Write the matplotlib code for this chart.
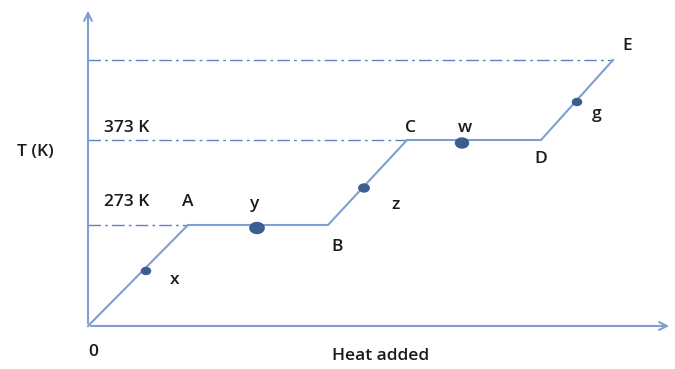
import matplotlib.pyplot as plt
from matplotlib.patches import Ellipse

# heating curve corners: O, A, B, C, D, E (heat, temperature in drawing units)
heat = [0, 100, 240, 319, 453, 525]
temp = [0, 101, 101, 186, 186, 266]
corner_labels = ["A", "B", "C", "D", "E"]
corner_label_pos = [(100, 124), (249, 79), (322, 198), (453, 167), (539, 280)]

# state points on the curve
pt_names = ["x", "y", "z", "w", "g"]
pt_heat = [58, 169, 276, 374, 489]
pt_temp = [55, 98, 138, 183, 224]
pt_size = [7, 11, 8, 10, 7]
pt_label_pos = [(87, 46), (167, 122), (308, 121), (377, 198), (509, 212)]

level_names = ["273 K", "373 K"]
line_col = "#7f9ed2"
dot_col = "#3b5e92"

fig = plt.figure(figsize=(6.75, 3.69), dpi=100)
ax = fig.add_axes([0, 0, 1, 1])
ax.set_xlim(-88, 587)
ax.set_ylim(-43, 326)
ax.axis("off")

# axes with arrows
ax.annotate("", xy=(0, 318), xytext=(0, 0),
            arrowprops=dict(arrowstyle="->", color=line_col, lw=1.5, mutation_scale=14))
ax.annotate("", xy=(584, 0), xytext=(0, 0),
            arrowprops=dict(arrowstyle="->", color=line_col, lw=1.5, mutation_scale=14))

# dash-dot reference levels
dd = (0, (9, 3, 2, 3))
ax.plot([0, heat[1]], [temp[1], temp[1]], color="#5b82c4", lw=1, ls=dd)
ax.plot([0, heat[3]], [temp[3], temp[3]], color="#5b82c4", lw=1, ls=dd)
ax.plot([0, heat[5]], [temp[5], temp[5]], color="#5b82c4", lw=1, ls=dd)

ax.plot(heat, temp, color=line_col, lw=1.5, solid_joinstyle="miter")

for h, t, s in zip(pt_heat, pt_temp, pt_size):
    ax.add_patch(Ellipse((h, t), s * 1.3, s, color=dot_col, zorder=3))

font = dict(family="Open Sans", fontsize=12.5, color="#1a1a1a", fontweight="semibold")
for lab, (lx, ly) in zip(corner_labels, corner_label_pos):
    ax.text(lx, ly, lab, ha="center", va="center", **font)
for lab, (lx, ly) in zip(pt_names, pt_label_pos):
    ax.text(lx, ly, lab, ha="center", va="center", **font)

ax.text(39, 124, level_names[0], ha="center", va="center", **font)
ax.text(39, 198, level_names[1], ha="center", va="center", **font)
ax.text(-53, 174, "T (K)", ha="center", va="center", **font)
ax.text(5, -26, "0", ha="center", va="center", **font)
ax.text(293, -30, "Heat added", ha="center", va="center", **font)

fig.savefig("out.png", dpi=100)
